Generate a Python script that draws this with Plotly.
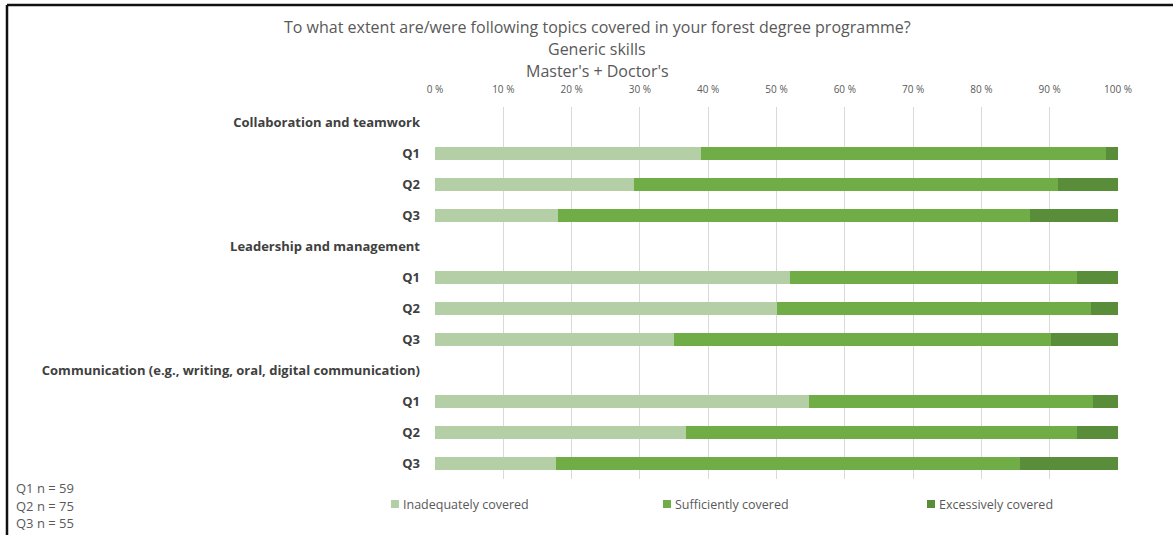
import plotly.graph_objects as go

# Topics and the question rows listed under each
topics = [
    "Collaboration and teamwork",
    "Leadership and management",
    "Communication (e.g., writing, oral, digital communication)",
]
questions = ["Q1", "Q2", "Q3"]

# Share of respondents (%) per topic, in question order Q1, Q2, Q3
inadequate = {
    "Collaboration and teamwork": [39.0, 29.2, 18.0],
    "Leadership and management": [52.0, 50.0, 35.0],
    "Communication (e.g., writing, oral, digital communication)": [54.8, 36.7, 17.7],
}
sufficient = {
    "Collaboration and teamwork": [59.3, 62.0, 69.1],
    "Leadership and management": [42.0, 46.0, 55.2],
    "Communication (e.g., writing, oral, digital communication)": [41.6, 57.3, 68.0],
}
excessive = {
    "Collaboration and teamwork": [1.7, 8.8, 12.9],
    "Leadership and management": [6.0, 4.0, 9.8],
    "Communication (e.g., writing, oral, digital communication)": [3.6, 6.0, 14.3],
}

sample_sizes = ["Q1 n = 59", "Q2 n = 75", "Q3 n = 55"]
x_ticks = list(range(0, 101, 10))
x_tick_labels = [f"{v} %" for v in x_ticks]

series = [
    ("Inadequately covered", inadequate, "#B4CFA6"),
    ("Sufficiently covered", sufficient, "#70AD47"),
    ("Excessively covered", excessive, "#5A8D39"),
]

# Category rows: a heading row followed by one row per question
rows, row_text = [], []
for t in topics:
    rows.append(t)
    row_text.append(f"<b>{t}</b>")
    for q in questions:
        rows.append(f"{t}|{q}")
        row_text.append(f"<b>{q}</b>")

bar_rows = [f"{t}|{q}" for t in topics for q in questions]

W, H = 1173, 535
ML, MR, MT, MB = 435, 55, 107, 56
PW, PH = W - ML - MR, H - MT - MB

fig = go.Figure()
for name, values, color in series:
    xs = [v for t in topics for v in values[t]]
    fig.add_trace(go.Bar(
        x=xs, y=bar_rows, orientation="h", name=name,
        marker=dict(color=color, line=dict(width=0)),
        showlegend=False,
    ))

font_family = "Open Sans, Lato, sans-serif"

fig.update_layout(
    width=W, height=H,
    margin=dict(l=ML, r=MR, t=MT, b=MB),
    barmode="stack", bargap=0.58,
    plot_bgcolor="white", paper_bgcolor="white",
    font=dict(family=font_family, color="#595959"),
    xaxis=dict(
        side="top", range=[0, 100], tickvals=x_ticks, ticktext=x_tick_labels,
        showgrid=True, gridcolor="#D9D9D9", gridwidth=1,
        zeroline=False, showline=False,
        tickfont=dict(size=10, color="#595959"), ticklabelstandoff=11,
        fixedrange=True,
    ),
    yaxis=dict(
        type="category", categoryorder="array", categoryarray=rows,
        tickvals=rows, ticktext=row_text,
        range=[len(rows) - 0.5, -0.5],
        showgrid=False, zeroline=False, showline=False,
        tickfont=dict(size=13, color="#404040"), ticklabelstandoff=14,
        fixedrange=True,
    ),
)

# Three-line title
for i, line in enumerate([
    "To what extent are/were following topics covered in your forest degree programme?",
    "Generic skills",
    "Master's + Doctor's",
]):
    fig.add_annotation(
        text=line, xref="paper", yref="paper",
        x=(597 - ML) / PW, y=(H - MB - (27 + 22 * i)) / PH,
        xanchor="center", yanchor="middle", showarrow=False,
        font=dict(size=16, color="#595959", family=font_family),
    )

# Sample sizes in the lower left corner
for i, txt in enumerate(sample_sizes):
    fig.add_annotation(
        text=txt, xref="paper", yref="paper",
        x=(14 - ML) / PW, y=(H - MB - (488 + 17.5 * i)) / PH,
        xanchor="left", yanchor="middle", showarrow=False,
        font=dict(size=13, color="#595959", family=font_family),
    )

# Legend built from the series colours
legend_x = [391, 663, 927]
for (name, _, color), lx in zip(series, legend_x):
    ly = 504
    fig.add_shape(
        type="rect", xref="paper", yref="paper",
        x0=(lx - ML) / PW, x1=(lx + 8 - ML) / PW,
        y0=(H - MB - (ly + 4)) / PH, y1=(H - MB - (ly - 4)) / PH,
        fillcolor=color, line=dict(width=0),
    )
    fig.add_annotation(
        text=name, xref="paper", yref="paper",
        x=(lx + 10 - ML) / PW, y=(H - MB - ly) / PH,
        xanchor="left", yanchor="middle", showarrow=False,
        font=dict(size=12.5, color="#595959", family=font_family),
    )

# Chart frame (top and left edges)
fig.add_shape(type="line", xref="paper", yref="paper",
              x0=(7 - ML) / PW, x1=(W - ML) / PW,
              y0=(H - MB - 5) / PH, y1=(H - MB - 5) / PH,
              line=dict(color="#111111", width=2.5))
fig.add_shape(type="line", xref="paper", yref="paper",
              x0=(7 - ML) / PW, x1=(7 - ML) / PW,
              y0=(H - MB - 5) / PH, y1=(H - MB - H) / PH,
              line=dict(color="#111111", width=2.5))

fig.write_html("out.html")
